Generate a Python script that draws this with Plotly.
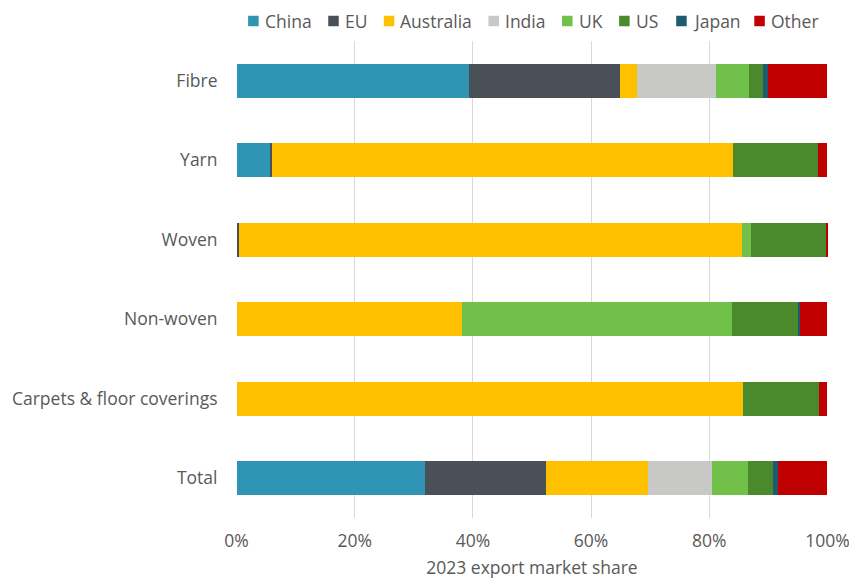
import plotly.graph_objects as go

# Product categories (top to bottom) and 2023 export market share (%) by destination
categories = ["Fibre", "Yarn", "Woven", "Non-woven", "Carpets & floor coverings", "Total"]

china     = [39.3, 5.7, 0.0, 0.0, 0.0, 31.9]
eu        = [25.6, 0.3, 0.4, 0.0, 0.0, 20.5]
australia = [2.8, 78.1, 85.2, 38.2, 85.7, 17.3]
india     = [13.4, 0.0, 0.0, 0.0, 0.0, 10.7]
uk        = [5.7, 0.0, 1.5, 45.6, 0.0, 6.1]
us        = [2.3, 14.3, 12.8, 11.3, 12.8, 4.3]
japan     = [0.9, 0.0, 0.0, 0.2, 0.0, 0.8]
other     = [10.0, 1.6, 0.1, 4.7, 1.5, 8.4]

series_names = ["China", "EU", "Australia", "India", "UK", "US", "Japan", "Other"]
series_values = [china, eu, australia, india, uk, us, japan, other]
series_colors = ["#3095B4", "#4A5058", "#FFC000", "#C8C8C6", "#70C04A", "#4A8A2C", "#1E5A70", "#C00000"]

x_ticks = [0, 20, 40, 60, 80, 100]
x_tick_labels = [f"{v}%" for v in x_ticks]

# Page geometry (px); the x range is padded slightly so the 0% and 100%
# gridlines sit just inside the plot area
W, H = 849, 579
X_PAD = 0.1
M_L, M_R, M_T, M_B = 236.4, 21.4, 41, 61
PLOT_W = W - M_L - M_R
PLOT_H = H - M_T - M_B
FONT_SIZE = 17.5

fig = go.Figure()
for name, vals, color in zip(series_names, series_values, series_colors):
    fig.add_trace(go.Bar(
        name=name,
        y=categories,
        x=vals,
        orientation="h",
        marker=dict(color=color, line=dict(width=0)),
        showlegend=False,
    ))

font_color = "#595959"

# Single-row legend across the top: colour square + label for each series
legend_left_px = [248.5, 328.5, 384, 488.5, 562, 619, 676, 754]
legend_y_px = 21
sq = 10.5


def px_to_paper_x(px):
    return (px - M_L) / PLOT_W


def px_to_paper_y(py):
    return (H - M_B - py) / PLOT_H


for name, color, lx in zip(series_names, series_colors, legend_left_px):
    fig.add_shape(
        type="rect", xref="paper", yref="paper",
        x0=px_to_paper_x(lx), x1=px_to_paper_x(lx + sq),
        y0=px_to_paper_y(legend_y_px + sq / 2), y1=px_to_paper_y(legend_y_px - sq / 2),
        fillcolor=color, line=dict(width=0),
    )
    fig.add_annotation(
        xref="paper", yref="paper",
        x=px_to_paper_x(lx + sq + 4), y=px_to_paper_y(legend_y_px),
        xanchor="left", yanchor="middle",
        text=name, showarrow=False,
        font=dict(family="Open Sans", size=FONT_SIZE, color=font_color),
    )

fig.update_layout(
    barmode="stack",
    bargap=0.57,
    width=W,
    height=H,
    margin=dict(l=M_L, r=M_R, t=M_T, b=M_B, autoexpand=False),
    paper_bgcolor="white",
    plot_bgcolor="white",
    font=dict(family="Open Sans", size=FONT_SIZE, color=font_color),
    showlegend=False,
    xaxis=dict(
        range=[-X_PAD, 100 + X_PAD],
        tickvals=x_ticks,
        ticktext=x_tick_labels,
        ticklabeloverflow="allow",
        showgrid=True,
        gridcolor="#D9D9D9",
        gridwidth=1,
        zeroline=False,
        showline=False,
        ticks="outside",
        ticklen=7,
        tickcolor="rgba(0,0,0,0)",
        title=dict(text="2023 export market share", font=dict(size=FONT_SIZE, color=font_color), standoff=12),
    ),
    yaxis=dict(
        autorange="reversed",
        showgrid=False,
        zeroline=False,
        showline=False,
        ticks="outside",
        ticklen=14,
        tickcolor="rgba(0,0,0,0)",
    ),
)

fig.write_html("out.html")
